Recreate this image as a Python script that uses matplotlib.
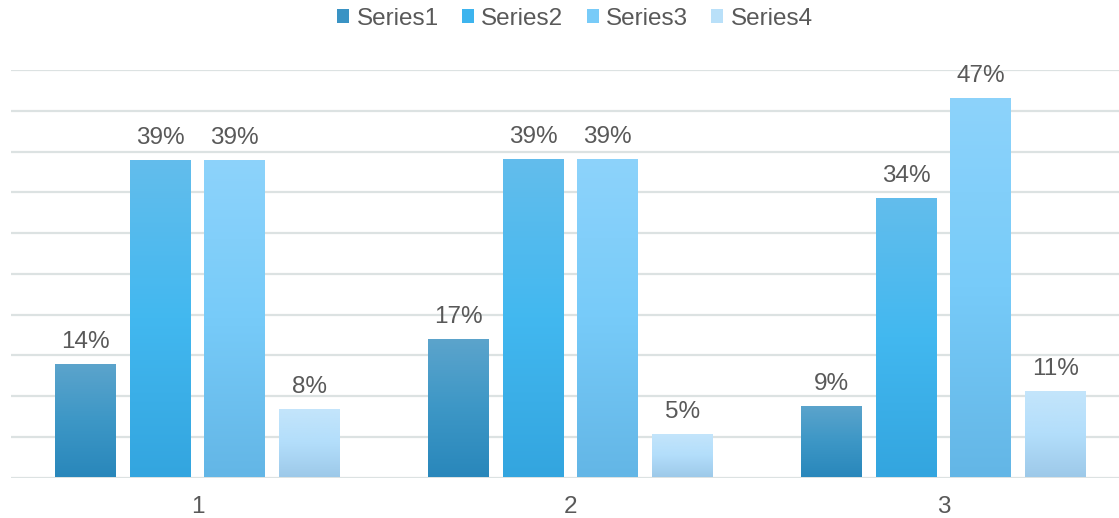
import numpy as np
import matplotlib
matplotlib.use("Agg")
import matplotlib.pyplot as plt
from matplotlib.colors import LinearSegmentedColormap
from matplotlib.patches import Patch

categories = ["1", "2", "3"]
series_names = ["Series1", "Series2", "Series3", "Series4"]
series1 = [13.9, 17.0, 8.8]
series2 = [38.9, 39.1, 34.3]
series3 = [38.9, 39.1, 46.6]
series4 = [8.4, 5.3, 10.6]

# bottom, middle, top colours of each series gradient
gradients = [
    ["#2987bb", "#3d97c6", "#5ca4cc"],
    ["#33a5df", "#42b8f0", "#63bdec"],
    ["#63b6e6", "#77cbf9", "#8dd3fb"],
    ["#9dc9e9", "#b3defb", "#c4e5fb"],
]
legend_colors = ["#3a93c4", "#3db4ee", "#78cbf8", "#b9e0f9"]
text_color = "#595959"

plt.rcParams["font.family"] = ["Liberation Sans", "DejaVu Sans"]

fig = plt.figure(figsize=(11.19, 5.18), dpi=100)
ax = fig.add_axes([11 / 1119, 40.5 / 518, 1119 / 1119, 407.5 / 518])

x = np.arange(len(categories))
width = 0.163
offsets = [-0.3, -0.1, 0.1, 0.3]
all_series = [series1, series2, series3, series4]

grad = np.linspace(0, 1, 256).reshape(-1, 1)
for i, vals in enumerate(all_series):
    cmap = LinearSegmentedColormap.from_list(series_names[i], gradients[i])
    bars = ax.bar(x + offsets[i], vals, width, color="none", zorder=2)
    for bar, v in zip(bars, vals):
        x0 = bar.get_x()
        im = ax.imshow(grad, extent=[x0, x0 + width, 0, v], origin="lower",
                       aspect="auto", cmap=cmap, zorder=2)
        im.set_clip_path(bar)
        ax.annotate(f"{round(v)}%", (x0 + width / 2, v), xytext=(0, 11.5),
                    textcoords="offset points", ha="center", va="baseline",
                    fontsize=17.5, color=text_color)

ax.set_xlim(-0.5, 2.5)
ax.set_ylim(0, 50)
ax.set_yticks(np.arange(0, 51, 5))
ax.set_yticklabels([])
ax.set_xticks(x)
ax.set_xticklabels(categories, fontsize=17.5, color=text_color)
ax.tick_params(length=0, pad=13.5)
ax.grid(axis="y", color="#dce2e2", linewidth=1.6)
ax.set_axisbelow(True)
for s in ax.spines.values():
    s.set_visible(False)

handles = [Patch(facecolor=c, edgecolor="none") for c in legend_colors]
fig.legend(handles, series_names, loc="center", bbox_to_anchor=(575 / 1119, 1 - 19 / 518),
           ncol=4, frameon=False, fontsize=17.5, labelcolor=text_color,
           handlelength=0.5, handleheight=0.5, handletextpad=0.3, columnspacing=0.95)

fig.savefig("out.png", dpi=100)
